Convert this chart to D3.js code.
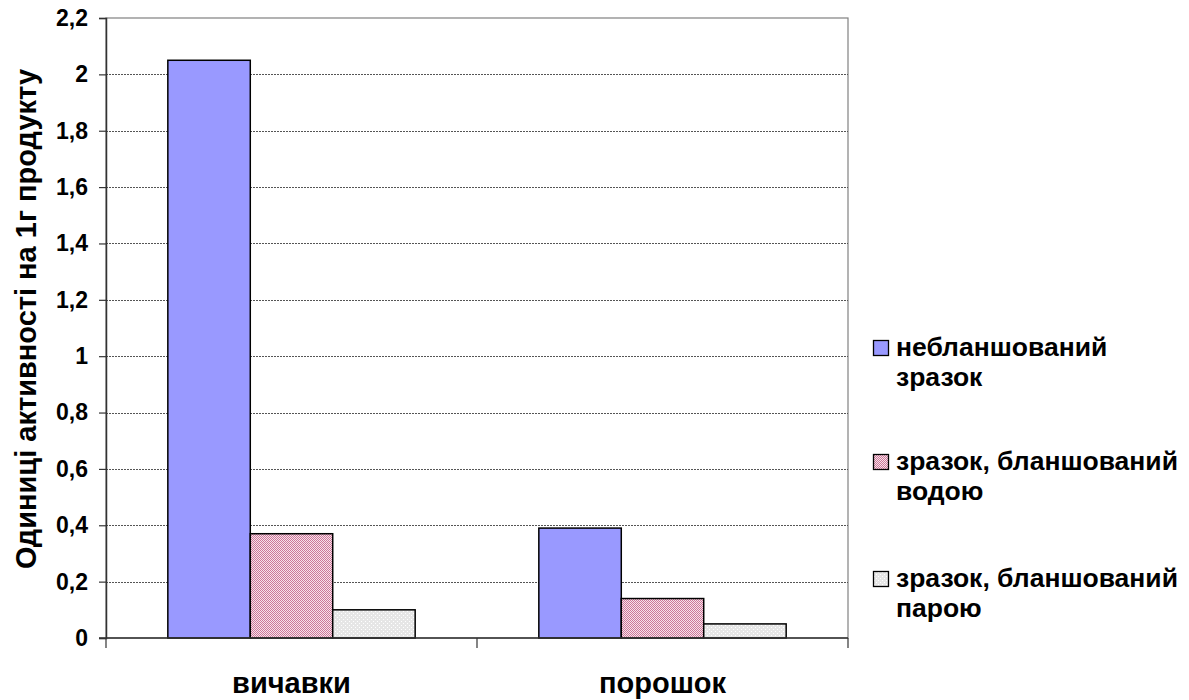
<!DOCTYPE html>
<html><head><meta charset="utf-8">
<script src="https://cdn.jsdelivr.net/npm/d3@7"></script>
<style>body{margin:0;background:#fff}svg{display:block;font-family:Arial,"Liberation Sans",sans-serif}</style>
</head><body><svg id="c" width="1189" height="700"></svg>
<script>
const categories = ["вичавки", "порошок"];
const seriesNames = [["небланшований", "зразок"], ["зразок, бланшований", "водою"], ["зразок, бланшований", "парою"]];
const seriesA = [2.05, 0.39];   // небланшований зразок
const seriesB = [0.37, 0.14];   // зразок, бланшований водою
const seriesC = [0.10, 0.05];   // зразок, бланшований парою
const yTicks = [0, 0.2, 0.4, 0.6, 0.8, 1, 1.2, 1.4, 1.6, 1.8, 2, 2.2];
const yTitle = "Одиниці активності на 1г продукту";

const FONT = "Arial, 'Liberation Sans', sans-serif";
const svg = d3.select("#c");
const defs = svg.append("defs");
// pink checker pattern
const p1 = defs.append("pattern").attr("id","pink").attr("width",2).attr("height",2).attr("patternUnits","userSpaceOnUse");
p1.append("rect").attr("width",2).attr("height",2).attr("fill","#f7e2ea");
p1.append("rect").attr("width",1).attr("height",1).attr("fill","#cc7799");
p1.append("rect").attr("x",1).attr("y",1).attr("width",1).attr("height",1).attr("fill","#cc7799");
// grey dotted pattern
const p2 = defs.append("pattern").attr("id","grey").attr("width",4).attr("height",4).attr("patternUnits","userSpaceOnUse");
p2.append("rect").attr("width",4).attr("height",4).attr("fill","#e6e6e6");
p2.append("rect").attr("x",1).attr("y",1).attr("width",1).attr("height",1).attr("fill","#ffffff");
p2.append("rect").attr("x",3).attr("y",3).attr("width",1).attr("height",1).attr("fill","#ffffff");

const fills = ["#9999ff", "url(#pink)", "url(#grey)"];
const L = 106, R = 848, T = 18, B = 638;
const y = d3.scaleLinear().domain([0, 2.2]).range([B, T]);
const x0 = d3.scaleBand().domain(categories).range([L, R]).paddingInner(0).paddingOuter(0);
const keys = ["a","b","c"];
const x1 = d3.scaleBand().domain(keys).range([0, x0.bandwidth()]).paddingInner(0).paddingOuter(0.75);
const data = categories.map((c,i)=>({cat:c, a:seriesA[i], b:seriesB[i], c:seriesC[i]}));

// plot border
svg.append("rect").attr("x",L).attr("y",T).attr("width",R-L).attr("height",B-T).attr("fill","none").attr("stroke","#808080").attr("stroke-width",1.2);
// gridlines
svg.append("g").selectAll("line").data(yTicks.filter(t=>t>0 && t<2.2)).join("line")
  .attr("x1",L).attr("x2",R).attr("y1",d=>Math.round(y(d))+0.5).attr("y2",d=>Math.round(y(d))+0.5)
  .attr("stroke","#555").attr("stroke-width",1).attr("stroke-dasharray","2,1");

// bars
const g = svg.append("g");
data.forEach(d=>{
  keys.forEach((k,j)=>{
    g.append("rect").attr("x",x0(d.cat)+x1(k)).attr("y",y(d[k])).attr("width",x1.bandwidth()).attr("height",B-y(d[k]))
     .attr("fill",fills[j]).attr("stroke","#000").attr("stroke-width",1.5);
  });
});

// y axis
const yAxis = d3.axisLeft(y).tickValues(yTicks).tickSize(7).tickPadding(11).tickFormat(d=>String(d).replace(".",","));
const ya = svg.append("g").attr("transform",`translate(${L},0)`).call(yAxis);
ya.attr("font-size",null);
ya.select(".domain").attr("stroke","#333").attr("stroke-width",1.5);
ya.selectAll(".tick line").attr("stroke","#333").attr("stroke-width",1.2);
ya.selectAll("text").style("font-size","23px").style("font-weight","bold").attr("fill","#000").style("font-family",FONT);

// x axis
const xa = svg.append("g").attr("transform",`translate(0,${B})`);
xa.append("line").attr("x1",L-7).attr("x2",R).attr("y1",0).attr("y2",0).attr("stroke","#333").attr("stroke-width",1.5);
xa.selectAll("line.t").data([L, x0(categories[1]), R]).join("line").attr("class","t")
  .attr("x1",d=>d).attr("x2",d=>d).attr("y1",0).attr("y2",10).attr("stroke","#333").attr("stroke-width",1.2);
xa.selectAll("text").data(categories).join("text")
  .attr("x",d=>x0(d)+x0.bandwidth()/2).attr("y",55).attr("text-anchor","middle")
  .attr("font-size",29).attr("font-weight","bold").text(d=>d);

// y title
svg.append("text").attr("transform",`translate(36,319) rotate(-90)`).attr("text-anchor","middle")
  .attr("font-size",29).attr("font-weight","bold").text(yTitle);

// legend
const legY = [340, 454, 571];
seriesNames.forEach((n,i)=>{
  const lg = svg.append("g").attr("transform",`translate(873,${legY[i]})`);
  lg.append("rect").attr("x",0.5).attr("y",0.5).attr("width",15).attr("height",15).attr("fill",fills[i]).attr("stroke","#000").attr("stroke-width",1.3);
  lg.append("text").attr("x",23).attr("y",16).attr("font-size",26.5).attr("font-weight","bold").text(n[0]);
  lg.append("text").attr("x",23).attr("y",46).attr("font-size",26.5).attr("font-weight","bold").text(n[1]);
});
</script></body></html>
